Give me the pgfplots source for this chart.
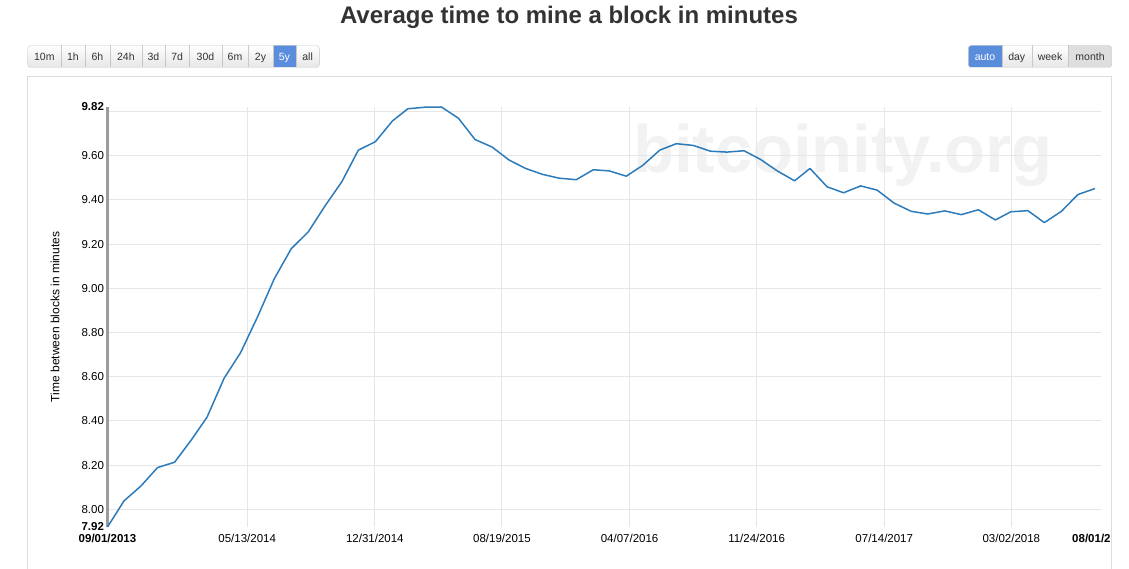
\documentclass[border=0pt]{standalone}
\usepackage{pgfplots}
\usepackage{pgfplotstable}
\pgfplotsset{compat=1.18}
\usepackage{fontspec}
\setmainfont{Liberation Sans}
\definecolor{lineblue}{RGB}{44,123,186}
\definecolor{gridgray}{RGB}{230,230,230}
\definecolor{axisgray}{RGB}{155,155,155}
\definecolor{framegray}{RGB}{221,221,221}
\definecolor{btnblue}{RGB}{91,141,221}
\definecolor{btnborder}{RGB}{200,200,200}
\definecolor{btnlow}{RGB}{230,230,230}
\definecolor{btnpressed}{RGB}{222,222,222}
\definecolor{titlegray}{RGB}{51,51,51}
\definecolor{wmgray}{RGB}{242,242,242}
\definecolor{btntext}{RGB}{51,51,51}

\pgfplotstableread{
day value
0 7.920
30 8.038
61 8.106
91 8.189
122 8.213
153 8.316
181 8.417
212 8.593
242 8.709
273 8.872
303 9.042
334 9.179
365 9.255
395 9.371
426 9.482
456 9.625
487 9.663
518 9.757
546 9.812
577 9.819
607 9.820
638 9.769
668 9.673
699 9.639
730 9.580
760 9.542
791 9.515
821 9.498
852 9.491
883 9.536
912 9.531
943 9.507
973 9.556
1004 9.625
1034 9.654
1065 9.646
1096 9.620
1126 9.616
1157 9.622
1187 9.583
1218 9.530
1249 9.486
1277 9.542
1308 9.459
1338 9.432
1369 9.463
1399 9.444
1430 9.385
1461 9.348
1491 9.336
1522 9.350
1552 9.333
1583 9.355
1614 9.309
1642 9.346
1673 9.351
1703 9.297
1734 9.348
1764 9.424
1795 9.451
}\blocktime

\newcommand\btnlabel[4]{\node[text=#4, font=\fontsize{10.5}{12}\selectfont, inner sep=0, anchor=base] at ({(#1+#2)/2},508.3) {#3};}

\begin{document}
\begin{tikzpicture}[x=1pt,y=1pt]
\path[use as bounding box] (0,0) rectangle (1129,569);
% title
\node[anchor=base, font=\bfseries\fontsize{24}{28}\selectfont, text=titlegray, inner sep=0] at (569,545.7) {Average time to mine a block in minutes};
% left button group
\begin{scope}
\clip[rounded corners=3pt] (27.7,501.5) rectangle (319.3,523.5);
\shade[top color=white,bottom color=btnlow] (27.7,501.5) rectangle (319.3,523.5);
\fill[btnblue] (272.7,501.5) rectangle (296,523.5);
\end{scope}
\draw[btnborder, rounded corners=3pt] (27.7,501.5) rectangle (319.3,523.5);
\foreach \xx in {61,85,110,141.7,165,189.3,221.7,248.3,272.7,296} {\draw[btnborder] (\xx,501.5) -- (\xx,523.5);}
\btnlabel{27.7}{61}{10m}{btntext}
\btnlabel{61}{85}{1h}{btntext}
\btnlabel{85}{110}{6h}{btntext}
\btnlabel{110}{141.7}{24h}{btntext}
\btnlabel{141.7}{165}{3d}{btntext}
\btnlabel{165}{189.3}{7d}{btntext}
\btnlabel{189.3}{221.7}{30d}{btntext}
\btnlabel{221.7}{248.3}{6m}{btntext}
\btnlabel{248.3}{272.7}{2y}{btntext}
\btnlabel{272.7}{296}{5y}{white}
\btnlabel{296}{319.3}{all}{btntext}
% right button group
\begin{scope}
\clip[rounded corners=3pt] (968.3,501.5) rectangle (1111.7,523.5);
\shade[top color=white,bottom color=btnlow] (968.3,501.5) rectangle (1111.7,523.5);
\fill[btnblue] (968.3,501.5) rectangle (1001.7,523.5);
\fill[btnpressed] (1068.3,501.5) rectangle (1111.7,523.5);
\end{scope}
\draw[btnborder, rounded corners=3pt] (968.3,501.5) rectangle (1111.7,523.5);
\foreach \xx in {1001.7,1031.7,1068.3} {\draw[btnborder] (\xx,501.5) -- (\xx,523.5);}
\btnlabel{968.3}{1001.7}{auto}{white}
\btnlabel{1001.7}{1031.7}{day}{btntext}
\btnlabel{1031.7}{1068.3}{week}{btntext}
\btnlabel{1068.3}{1111.7}{month}{btntext}
% frame
\draw[framegray, line width=1pt] (27.5,0) -- (27.5,492.5) -- (1111,492.5) -- (1111,0);
% watermark
\node[anchor=base west, font=\bfseries\fontsize{67}{67}\selectfont, text=wmgray, inner sep=0] at (633,396.7) {bitcoinity.org};
\begin{scope}
\clip (0,0) rectangle (1110.5,569);
\begin{axis}[
  at={(107.5pt,42pt)}, anchor=south west, scale only axis,
  width=993.5pt, height=420pt,
  xmin=0, xmax=1806, ymin=7.92, ymax=9.82,
  axis x line*=bottom, axis y line*=left,
  x axis line style={draw=none},
  y axis line style={draw=axisgray, line width=2.2pt},
  major tick length=0pt,
  xtick={254,486,717,949,1180,1412,1643},
  xticklabels={05/13/2014,12/31/2014,08/19/2015,04/07/2016,11/24/2016,07/14/2017,03/02/2018},
  ytick={8.0,8.2,8.4,8.6,8.8,9.0,9.2,9.4,9.6,9.8},
  yticklabels={8.00,8.20,8.40,8.60,8.80,9.00,9.20,9.40,9.60,{}},
  extra x ticks={0,1806},
  extra x tick labels={\textbf{09/01/2013},\textbf{08/01/2018}},
  extra x tick style={grid=none},
  extra y ticks={7.92,9.82},
  extra y tick labels={\textbf{7.92},\textbf{9.82}},
  extra y tick style={grid=none},
  grid=major,
  major grid style={gridgray, line width=1pt},
  tick label style={font=\fontsize{11.5}{13}\selectfont, text=black},
  xticklabel style={yshift=-4pt},
  ylabel={Time between blocks in minutes},
  ylabel style={at={(axis description cs:-0.0528,0.5)}, anchor=center, font=\fontsize{12}{14}\selectfont},
  clip=false,
]
\addplot[lineblue, line width=1.5pt, line join=round] table[x=day, y=value] {\blocktime};
\end{axis}
\end{scope}
\end{tikzpicture}
\end{document}
